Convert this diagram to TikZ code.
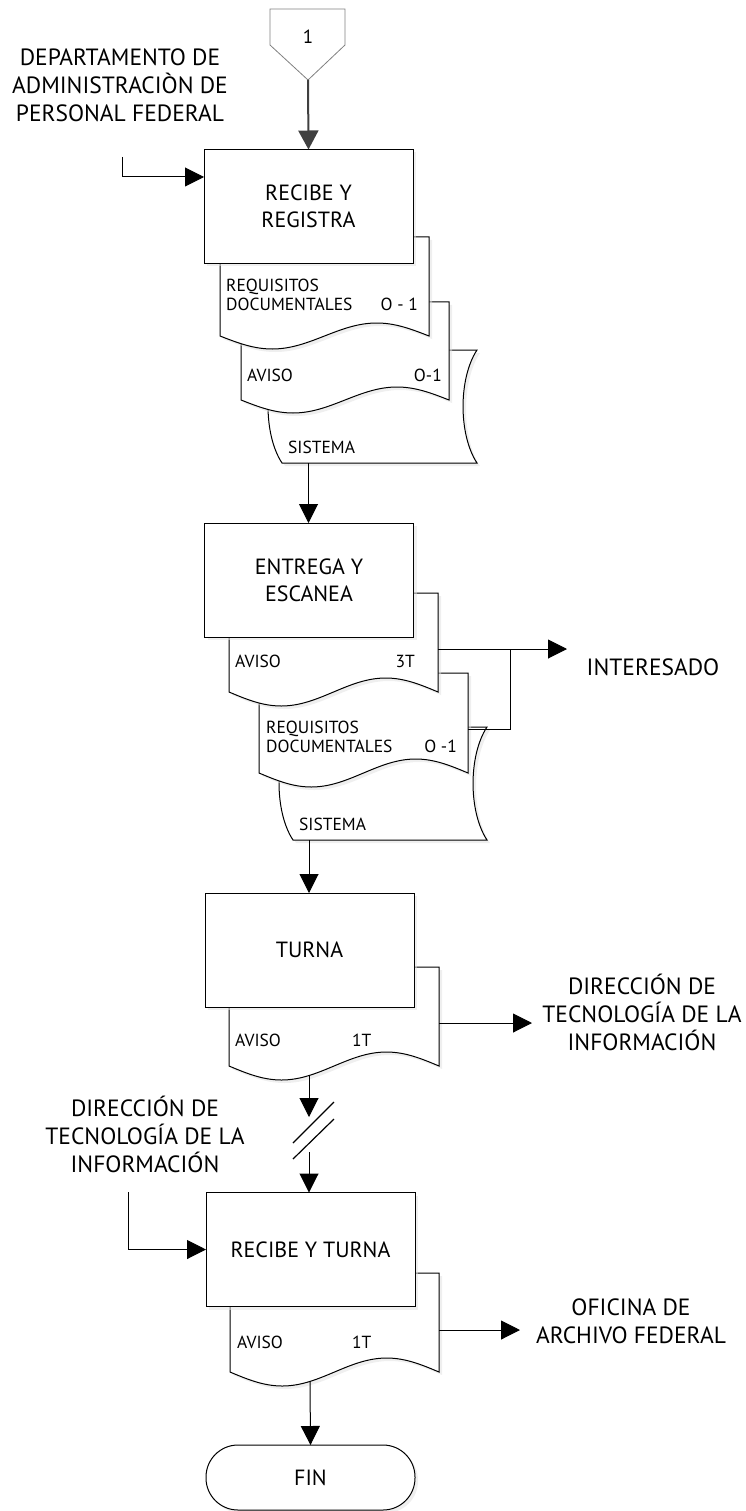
\documentclass[tikz,border=0pt]{standalone}
\usepackage{fontspec}
\setmainfont{PT Sans}
\usetikzlibrary{arrows.meta,shadows}

\newcommand{\docfont}{\fontsize{17.5}{19}\selectfont}
\newcommand{\boxfont}{\fontsize{22}{27}\selectfont}
\newcommand{\outfont}{\fontsize{23.5}{28}\selectfont}

% document shape: xl, xr, ytop, ybottom, amplitude
\newcommand{\docshape}[5]{%
  \path[shp] (#1,#3) -- (#2,#3) -- (#2,#4)
    sin ({#1+0.75*(#2-#1)},{#4-#5}) cos ({0.5*(#1+#2)},#4)
    sin ({#1+0.25*(#2-#1)},{#4+#5}) cos (#1,#4) -- cycle;}
% stored data shape: xl, xr, ytop, ybottom, bulge
\newcommand{\storedshape}[5]{%
  \path[shp] (#1,#3) -- (#2,#3)
    .. controls ({#2-1.33*#5},{#3+0.25*(#4-#3)}) and ({#2-1.33*#5},{#3+0.75*(#4-#3)}) .. (#2,#4)
    -- (#1,#4)
    .. controls ({#1-1.33*#5},{#3+0.75*(#4-#3)}) and ({#1-1.33*#5},{#3+0.25*(#4-#3)}) .. cycle;}

\begin{document}
\begin{tikzpicture}[x=1pt,y=-1pt,
  shp/.style={draw=black,line width=1pt,fill=white,
    drop shadow={shadow xshift=3pt,shadow yshift=-3pt,fill=black!12}},
  proc/.style={shp,minimum width=209pt,minimum height=114pt,inner sep=0pt,
    outer sep=0pt,font=\boxfont,align=center},
  term/.style={shp,minimum width=209pt,minimum height=65pt,inner sep=0pt,
    outer sep=0pt,rounded corners=32pt,font=\boxfont},
  arr/.style={line width=1pt,-{Triangle[length=19pt,width=19pt]}},
  conn/.style={line width=1pt},
  dtxt/.style={font=\docfont,inner sep=0pt},
  otxt/.style={font=\outfont,align=center,inner sep=0pt}
]
\useasboundingbox (0,0) rectangle (745,1511);

% ---------- off-page connector ----------
\draw[draw=black!50,line width=0.8pt,fill=white] (270,9) -- (345,9) -- (345,45) -- (308,80) -- (270,45) -- cycle;
\node[inner sep=0pt,font=\fontsize{19}{21}\selectfont] (one) at (308,37) {1};
\coordinate (off) at (308,80);

% ---------- block 1 ----------
\storedshape{282}{477}{350}{463}{14}
\docshape{241}{449}{302}{400}{13}
\docshape{220}{429}{237}{336}{13}
\node[proc] (B1) at (308.5,206.5) {RECIBE Y\\REGISTRA};
\node[dtxt,anchor=base west] (r1a) at (226,291) {REQUISITOS};
\node[dtxt,anchor=base west] (r1b) at (226,310) {DOCUMENTALES};
\node[dtxt,anchor=base east] (r1c) at (418,310) {O - 1};
\node[dtxt,anchor=base west] (a1a) at (247,381) {AVISO};
\node[dtxt,anchor=base east] (a1b) at (442,381) {O-1};
\node[dtxt,anchor=base west] (s1t) at (288,453) {SISTEMA};
\coordinate (s1b) at (308.5,463);

\node[otxt] (dep) at (120,85) {DEPARTAMENTO DE\\ADMINISTRACIÒN DE\\PERSONAL FEDERAL};
\coordinate (in1) at (122,157);
\coordinate (in1y) at (0,177);

\draw[line width=2pt,draw=black!75,-{Triangle[length=19pt,width=20pt]}] (off) -- (B1.north);
\draw[arr] (in1) |- (B1.west |- in1y);

% ---------- block 2 ----------
\storedshape{293}{487}{727}{840}{14}
\docshape{259}{468}{673}{773}{14}
\docshape{229}{438}{593}{692}{14}
\node[proc] (B2) at (309,580) {ENTREGA Y\\ESCANEA};
\node[dtxt,anchor=base west] (a2a) at (235,667) {AVISO};
\node[dtxt,anchor=base east] (a2b) at (415,667) {3T};
\node[dtxt,anchor=base west] (r2a) at (266,733) {REQUISITOS};
\node[dtxt,anchor=base west] (r2b) at (266,752) {DOCUMENTALES};
\node[dtxt,anchor=base east] (r2c) at (457,752) {O -1};
\node[dtxt,anchor=base west] (s2t) at (299,830) {SISTEMA};
\coordinate (s2b) at (309,840);

\draw[arr] (s1b) -- (s1b |- B2.north);

\coordinate (d2ar) at (438,649);
\coordinate (d2br) at (468,729);
\coordinate (j2) at (510,649);
\coordinate (out2) at (567,649);
\node[otxt] (int) at (653,667) {INTERESADO};
\draw[arr] (d2ar) -- (out2);
\draw[conn] (d2br) -| (j2);

% ---------- block 3 ----------
\docshape{229}{439}{967}{1066}{14}
\node[proc] (B3) at (309.5,950) {TURNA};
\node[dtxt,anchor=base west] (a3a) at (235,1046) {AVISO};
\node[dtxt,anchor=base west] (a3b) at (352,1046) {1T};
\draw[arr] (s2b) -- (s2b |- B3.north);

\coordinate (d3r) at (439,1023);
\coordinate (out3) at (532,1023);
\draw[arr] (d3r) -- (out3);
\node[otxt] (dti1) at (642,1012) {DIRECCIÓN DE\\TECNOLOGÍA DE LA\\INFORMACIÓN};

\coordinate (d3b) at (309,1075);
\coordinate (brkA) at (309,1117);
\coordinate (brkB) at (309,1152);
\draw[arr] (d3b) -- (brkA);
\draw[line width=1.2pt] (293,1143) -- (334,1102);
\draw[line width=1.2pt] (293,1159) -- (334,1119);

% ---------- block 4 ----------
\docshape{230}{439}{1273}{1372}{14}
\node[proc] (B4) at (310.5,1249.5) {RECIBE Y TURNA};
\node[dtxt,anchor=base west] (a4a) at (237,1348) {AVISO};
\node[dtxt,anchor=base west] (a4b) at (352,1348) {1T};
\draw[arr] (brkB) -- (brkB |- B4.north);

\node[otxt] (dti2) at (145,1134) {DIRECCIÓN DE\\TECNOLOGÍA DE LA\\INFORMACIÓN};
\coordinate (in4) at (128,1192);
\draw[arr] (in4) |- (B4.west);

\coordinate (d4r) at (439,1330);
\coordinate (out4) at (520,1330);
\draw[arr] (d4r) -- (out4);
\node[otxt] (ofi) at (631,1321) {OFICINA DE\\ARCHIVO FEDERAL};

% ---------- end ----------
\node[term] (fin) at (310.5,1477.5) {FIN};
\coordinate (d4b) at (310,1381);
\draw[arr] (d4b) -- (fin.north);
\end{tikzpicture}
\end{document}
